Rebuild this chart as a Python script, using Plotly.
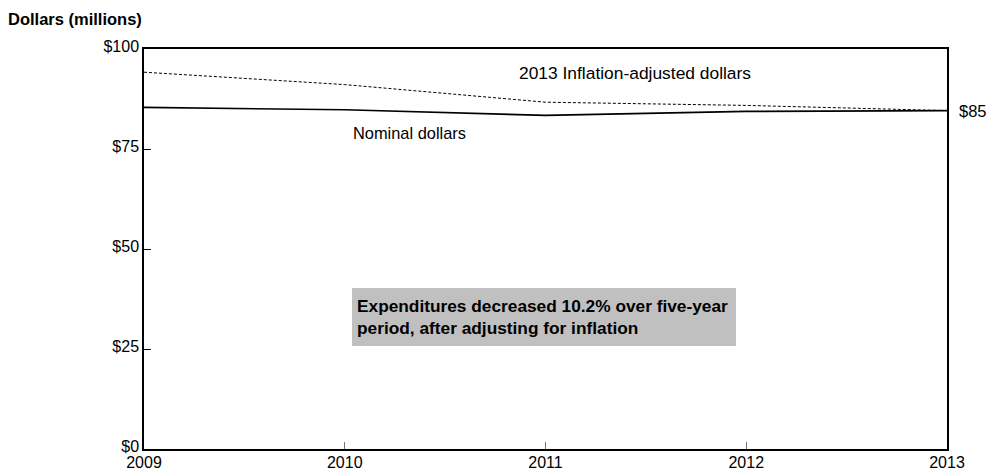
import plotly.graph_objects as go

years = [2009, 2010, 2011, 2012, 2013]
nominal = [85.4, 84.8, 83.4, 84.4, 84.6]
adjusted = [94.2, 91.1, 86.7, 85.9, 84.6]
y_ticks = [0, 25, 50, 75, 100]
y_tick_labels = ["$0", "$25", "$50", "$75", "$100"]
x_ticks = [2009, 2010, 2011, 2012, 2013]

FONT = "Liberation Sans, Arial, sans-serif"

fig = go.Figure()
fig.add_trace(go.Scatter(x=years, y=adjusted, mode="lines",
                         line=dict(color="black", width=1, dash="3px,2px"),
                         name="2013 Inflation-adjusted dollars"))
fig.add_trace(go.Scatter(x=years, y=nominal, mode="lines",
                         line=dict(color="black", width=1.6),
                         name="Nominal dollars"))

fig.update_layout(
    width=987, height=470,
    margin=dict(l=144, r=40, t=49, b=21),
    paper_bgcolor="white", plot_bgcolor="white",
    showlegend=False,
    font=dict(family=FONT, size=16, color="black"),
    title=dict(text="<b>Dollars (millions)</b>", x=8 / 987, xref="container", xanchor="left",
               y=1 - 19 / 470, yref="container", yanchor="middle",
               font=dict(size=16.5, family=FONT, color="black")),
    xaxis=dict(range=[2009, 2013], tickvals=x_ticks, ticktext=[str(v) for v in x_ticks],
               ticks="inside", ticklen=7, tickcolor="#777", tickwidth=1,
               showgrid=False, zeroline=False, automargin=False,
               showline=True, linecolor="black", linewidth=1.5, mirror=True,
               tickfont=dict(size=16), ticklabelstandoff=-2),
    yaxis=dict(range=[0, 100], tickvals=y_ticks, ticktext=y_tick_labels,
               ticks="inside", ticklen=7, tickcolor="black", tickwidth=1,
               showgrid=False, zeroline=False, automargin=False,
               showline=True, linecolor="black", linewidth=1.5, mirror=True,
               tickfont=dict(size=16), ticklabelshift=-3),
)

fig.add_annotation(x=2011.446, y=94.1, text="2013 Inflation-adjusted dollars",
                   showarrow=False, xanchor="center", yanchor="middle", font=dict(size=17.4))
fig.add_annotation(x=2010.03, y=79.1, text="Nominal dollars",
                   showarrow=False, xanchor="left", yanchor="middle", font=dict(size=16.4))
fig.add_annotation(x=2013, y=84.6, text="$85", showarrow=False,
                   xanchor="left", yanchor="middle", xshift=10, font=dict(size=16.5))
fig.add_annotation(x=2010.036, y=40.3,
                   text="<b>Expenditures decreased 10.2% over five-year<br>period, after adjusting for inflation</b>",
                   showarrow=False, xanchor="left", yanchor="top", align="left",
                   bgcolor="#c0c0c0", bordercolor="#c0c0c0", borderwidth=1,
                   width=374, height=48, borderpad=4,
                   font=dict(size=17.3))

fig.write_html("out.html", config={"displayModeBar": False},
               post_script="document.body.style.margin='0';document.body.style.overflow='hidden';")
